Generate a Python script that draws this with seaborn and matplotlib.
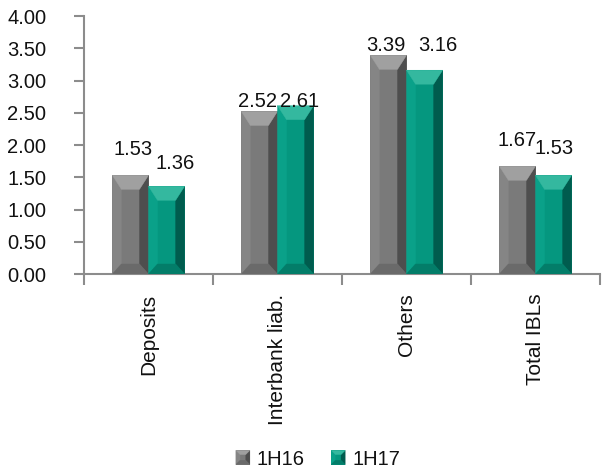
import numpy as np
import pandas as pd
import matplotlib
matplotlib.use("Agg")
import matplotlib.pyplot as plt
import seaborn as sns
from matplotlib.patches import Polygon, Rectangle
from matplotlib.legend_handler import HandlerBase
from matplotlib.ticker import FormatStrFormatter

# ---- data ----
categories = ["Deposits", "Interbank liab.", "Others", "Total IBLs"]
series_names = ["1H16", "1H17"]
values_1h16 = [1.53, 2.52, 3.39, 1.67]
values_1h17 = [1.36, 2.61, 3.16, 1.53]
y_ticks = [0.0, 0.5, 1.0, 1.5, 2.0, 2.5, 3.0, 3.5, 4.0]

# value-label placement: (dx, dy) in pixels of the text centre from the bar top centre
label_offsets = {
    "1H16": [(2.5, 28), (-2, 12), (-2.5, 12), (0, 27)],
    "1H17": [(8.5, 24), (4, 6), (13, 26), (1, 29)],
}

# face colours of the bevelled bars
shades = {
    "1H16": dict(front="#7a7a7a", top="#a0a0a0", left="#858585",
                 right="#4e4e4e", bottom="#6a6a6a"),
    "1H17": dict(front="#05977f", top="#34b89f", left="#0aa189",
                 right="#005c4e", bottom="#037d69"),
}

sns.set_theme(style="white")
plt.rcParams["font.family"] = ["Liberation Sans", "DejaVu Sans"]

W, H = 602, 469
fig = plt.figure(figsize=(W / 100, H / 100), dpi=100)
ax_left, ax_bottom, ax_w, ax_h = 84, 195, 516, 258
ax = fig.add_axes([ax_left / W, ax_bottom / H, ax_w / W, ax_h / H])

df = pd.DataFrame({
    "category": categories * 2,
    "period": [series_names[0]] * len(categories) + [series_names[1]] * len(categories),
    "value": values_1h16 + values_1h17,
})

sns.barplot(data=df, x="category", y="value", hue="period",
            hue_order=series_names,
            palette=[shades[n]["front"] for n in series_names],
            width=0.56, gap=0, dodge=True, saturation=1,
            linewidth=0, errorbar=None, legend=False, ax=ax)

ax.set_xlim(-0.5, len(categories) - 0.5)
ax.set_ylim(0, 4)

# pixel -> data scale factors
sx = (ax.get_xlim()[1] - ax.get_xlim()[0]) / ax_w
sy = (ax.get_ylim()[1] - ax.get_ylim()[0]) / ax_h


def bevel_polys(x0, y0, w, h, dx, dt, db, c):
    x1, y1 = x0 + w, y0 + h
    xa, xb = x0 + dx, x1 - dx
    ya, yb = y0 + db, y1 - dt
    return [
        ([(x0, y0), (xa, ya), (xa, yb), (x0, y1)], c["left"]),
        ([(x1, y0), (xb, ya), (xb, yb), (x1, y1)], c["right"]),
        ([(x0, y1), (x1, y1), (xb, yb), (xa, yb)], c["top"]),
        ([(x0, y0), (x1, y0), (xb, ya), (xa, ya)], c["bottom"]),
    ]


label_size = 14.5
cap_px = 0.716 * label_size * 100 / 72
for cont, name in zip(ax.containers, series_names):
    for rect, (odx, ody) in zip(cont, label_offsets[name]):
        for pts, col in bevel_polys(rect.get_x(), rect.get_y(), rect.get_width(),
                                    rect.get_height(), 9 * sx, 14 * sy, 10 * sy,
                                    shades[name]):
            ax.add_patch(Polygon(pts, closed=True, facecolor=col,
                                 edgecolor=col, linewidth=0.3, zorder=3))
        top = rect.get_y() + rect.get_height()
        ax.annotate(f"{rect.get_height():.2f}",
                    xy=(rect.get_x() + rect.get_width() / 2, top),
                    xytext=(odx * 0.72, (ody - cap_px / 2) * 0.72),
                    textcoords="offset points", ha="center", va="baseline",
                    fontsize=label_size, color="#111111", zorder=5)

# axes styling
axis_grey = "#8c8c8c"
for s in ["top", "right"]:
    ax.spines[s].set_visible(False)
for s in ["left", "bottom"]:
    ax.spines[s].set_color(axis_grey)
    ax.spines[s].set_linewidth(1.5)

ax.set_yticks(y_ticks)
ax.yaxis.set_major_formatter(FormatStrFormatter("%.2f"))
ax.tick_params(axis="y", left=True, direction="out", length=7, width=1.5,
               color=axis_grey, pad=20, labelsize=14.5, labelcolor="#111111")

ax.set_xticks(range(len(categories)))
ax.set_xticklabels(categories, rotation=90, va="top", ha="center")
ax.tick_params(axis="x", which="major", bottom=True, length=0, pad=14,
               labelsize=15, labelcolor="#111111")
ax.set_xticks(np.arange(-0.5, len(categories), 1.0), minor=True)
ax.tick_params(axis="x", which="minor", bottom=True, direction="out",
               length=8, width=1.5, color=axis_grey)
ax.set_xlabel("")
ax.set_ylabel("")


class BevelHandler(HandlerBase):
    def __init__(self, shade):
        super().__init__()
        self.shade = shade

    def create_artists(self, legend, orig_handle, xdescent, ydescent,
                       width, height, fontsize, trans):
        s = min(width, height)
        x0 = -xdescent + (width - s) / 2
        y0 = -ydescent + (height - s) / 2
        d = 0.3 * s
        arts = [Rectangle((x0, y0), s, s, facecolor=self.shade["front"],
                          linewidth=0, transform=trans)]
        for pts, col in bevel_polys(x0, y0, s, s, d, d, d, self.shade):
            arts.append(Polygon(pts, closed=True, facecolor=col, edgecolor=col,
                                linewidth=0.2, transform=trans))
        return arts


handles = [Rectangle((0, 0), 1, 1, label=n) for n in series_names]
fig.legend(handles=handles, loc="center", bbox_to_anchor=(318 / W, 10 / H),
           ncol=2, frameon=False, fontsize=14.5,
           handler_map={h: BevelHandler(shades[n]) for h, n in zip(handles, series_names)},
           handlelength=0.7, handleheight=0.7, handletextpad=0.35,
           columnspacing=1.3, labelcolor="#111111")

fig.savefig("out.png", dpi=100)
